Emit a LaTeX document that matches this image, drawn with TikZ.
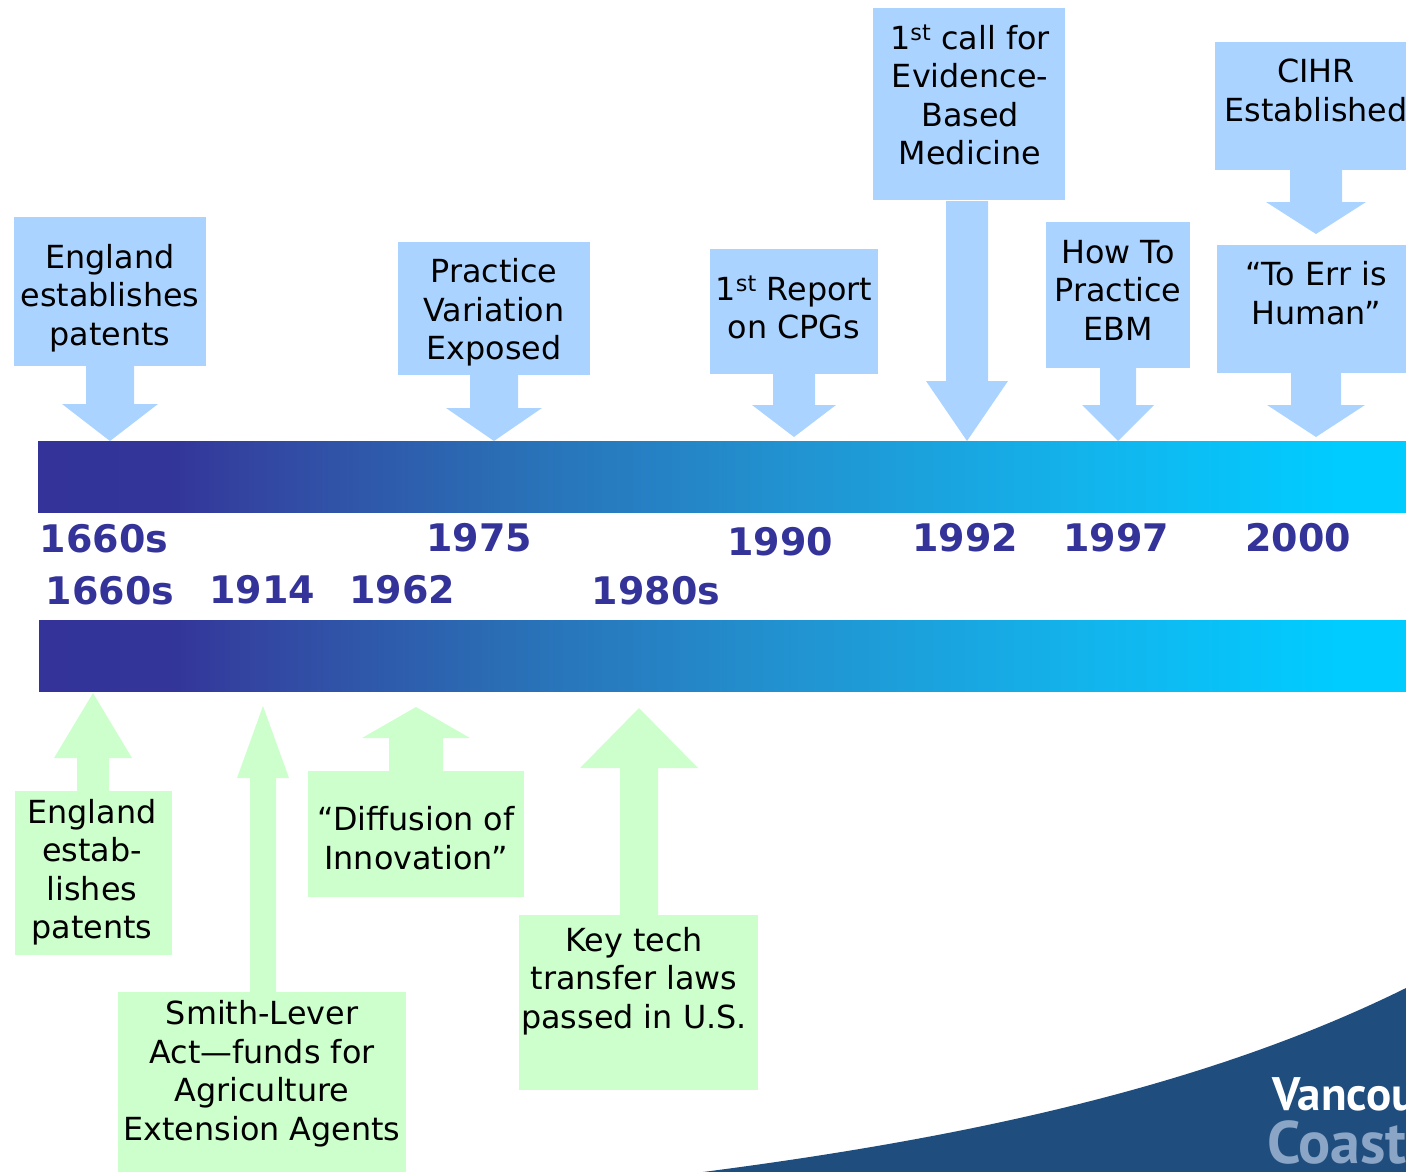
\documentclass[tikz,border=0pt]{standalone}
\usepackage{fontspec}
\setmainfont{DejaVu Sans}
\newfontfamily\logofont{PT Sans}
\definecolor{bluebox}{HTML}{AAD4FF}
\definecolor{greenbox}{HTML}{CCFFCC}
\definecolor{yearcol}{HTML}{333399}
\definecolor{swoosh}{HTML}{1F4E7E}
\definecolor{logolite}{HTML}{8AA5C6}
\pgfdeclarehorizontalshading{barshade}{100bp}{
  rgb(0bp)=(0.20,0.20,0.60);
  rgb(25bp)=(0.20,0.20,0.60);
  rgb(30bp)=(0.20,0.21,0.60);
  rgb(32.75bp)=(0.20,0.27,0.63);
  rgb(41.9bp)=(0.165,0.43,0.71);
  rgb(52.85bp)=(0.13,0.58,0.82);
  rgb(63.8bp)=(0.07,0.71,0.93);
  rgb(72.5bp)=(0.00,0.80,1.00);
  rgb(100bp)=(0.00,0.80,1.00)}
\tikzset{
  x=1pt,y=-1pt,
  bluefill/.style={fill=bluebox,draw=none},
  greenfill/.style={fill=greenbox,draw=none},
  boxtext/.style={align=center,inner sep=0pt,text=black,font=\fontsize{31.8}{38.5}\selectfont},
  yeartext/.style={inner sep=0pt,text=yearcol,font=\fontsize{38}{40}\selectfont\bfseries},
}
% #1 style, #2 cx, #3 start y, #4 neck y, #5 tip y, #6 shaft half width, #7 head half width
\newcommand{\blockarrow}[7]{\fill[#1] (#2-#6,#3) -- (#2-#6,#4) -- (#2-#7,#4) -- (#2,#5) -- (#2+#7,#4) -- (#2+#6,#4) -- (#2+#6,#3) -- cycle;}
\begin{document}
\begin{tikzpicture}
\useasboundingbox (0,0) rectangle (1406,1172);
\clip (0,0) rectangle (1406,1172);
% swoosh
\fill[swoosh] (703,1172) .. controls (950,1140) and (1200,1090) .. (1406,988) -- (1406,1172) -- cycle;
\node[anchor=base west,inner sep=0pt,text=white,font=\logofont\bfseries\fontsize{47}{47}\selectfont] (logoa) at (1272,1110) {Vancou};
\node[anchor=base west,inner sep=0pt,text=logolite,font=\logofont\bfseries\fontsize{60}{60}\selectfont] (logob) at (1267,1163) {Coast};
% bars
\fill[shading=barshade] (38,441) rectangle (1406,512.6);
\fill[shading=barshade] (39,620) rectangle (1406,691.6);
% blue arrows
\blockarrow{bluefill}{110}{360}{404}{441}{24}{48}
\blockarrow{bluefill}{494}{370}{408}{441}{24}{48}
\blockarrow{bluefill}{794}{370}{405}{437}{21}{42}
\blockarrow{bluefill}{967}{201}{381}{441}{21}{41}
\blockarrow{bluefill}{1118}{360}{405}{441}{18}{36}
\blockarrow{bluefill}{1316}{165}{202}{234}{26}{50}
\blockarrow{bluefill}{1316}{370}{405}{437}{25}{49}
% blue boxes
\fill[bluefill] (14,217) rectangle (206,366);
\fill[bluefill] (398,242) rectangle (590,375);
\fill[bluefill] (710,249) rectangle (878,374);
\fill[bluefill] (873,8) rectangle (1065,200);
\fill[bluefill] (1046,222) rectangle (1190,368);
\fill[bluefill] (1215,42) rectangle (1406,170);
\fill[bluefill] (1217,245) rectangle (1406,373);
% blue text
\node[boxtext] (t1) at (110,298) {England\\establishes\\patents};
\node[boxtext] (t2) at (494,312.5) {Practice\\Variation\\Exposed};
\node[boxtext] (t3) at (794,307.5) {1\textsuperscript{st} Report\\on CPGs};
\node[boxtext] (t4) at (970,95) {1\textsuperscript{st} call for\\Evidence-\\Based\\Medicine};
\node[boxtext] (t5) at (1118,290) {How To\\Practice\\EBM};
\node[boxtext] (t6) at (1316,90.5) {CIHR\\Established};
\node[boxtext] (t7) at (1316,293) {“To Err is\\Human”};
% years
\node[yeartext] (y1) at (104,539) {1660s};
\node[yeartext] (y2) at (479,538) {1975};
\node[yeartext] (y3) at (780,542) {1990};
\node[yeartext] (y4) at (965,538) {1992};
\node[yeartext] (y5) at (1116,538) {1997};
\node[yeartext] (y6) at (1298,538) {2000};
\node[yeartext] (y7) at (110,591) {1660s};
\node[yeartext] (y8) at (262,590) {1914};
\node[yeartext] (y9) at (402,590) {1962};
\node[yeartext] (y10) at (656,591) {1980s};
% green arrows
\blockarrow{greenfill}{93}{795}{758}{693}{16}{39}
\blockarrow{greenfill}{263}{995}{778}{706}{13}{26}
\blockarrow{greenfill}{416}{775}{738}{707}{27}{54}
\blockarrow{greenfill}{639}{920}{768}{708}{19}{59}
% green boxes
\fill[greenfill] (15,791) rectangle (172,955);
\fill[greenfill] (118,992) rectangle (406,1172);
\fill[greenfill] (308,771) rectangle (524,897);
\fill[greenfill] (519,915) rectangle (758,1090);
% green text
\node[boxtext] (g1) at (92,872) {England\\estab-\\lishes\\patents};
\node[boxtext] (g2) at (262,1073.5) {Smith-Lever\\Act—funds for\\Agriculture\\Extension Agents};
\node[boxtext] (g3) at (416,838) {“Diffusion of\\Innovation”};
\node[boxtext] (g4) at (634,981) {Key tech\\transfer laws\\passed in U.S.};
\end{tikzpicture}
\end{document}
